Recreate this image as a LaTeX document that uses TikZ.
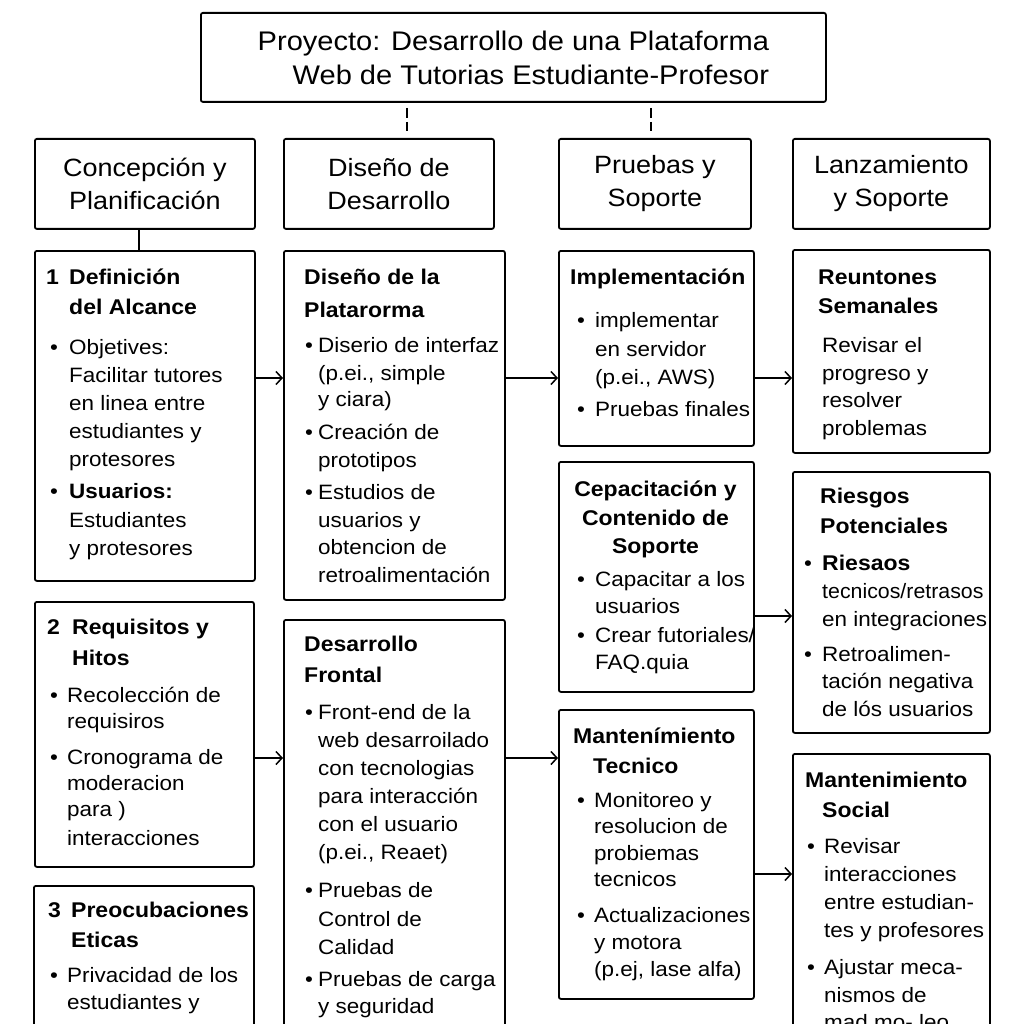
\documentclass[tikz,border=0pt]{standalone}
\usepackage{fontspec}
\setmainfont{Liberation Sans}[FakeStretch=1.08]
\usepackage{graphicx}
\usetikzlibrary{arrows.meta}
\newlength\Wa
\newlength\Ob
\newcommand{\bt}{\bfseries\fontsize{21.3}{26}\selectfont}
\newcommand{\LT}[2]{\kern#1\hbox{\smash{\bt #2}}}
\newcommand{\LM}[2]{\kern#1\hbox to 0pt{\hss\smash{\bt #2}\hss}}
\newcommand{\LB}[2]{\kern#1\hbox{\smash{\makebox[\Wa][l]{\hspace*{\Ob}\textbullet}#2}}}
\newcommand{\LC}[2]{\kern#1\hbox{\smash{\hspace*{\Wa}#2}}}
\newcommand{\TxtBlk}[3]{\setlength\Wa{#1}\setlength\Ob{#2}\vtop{\offinterlineskip #3}}
\begin{document}
\begin{tikzpicture}[x=1pt,y=-1pt,
  box/.style={draw, line width=1.8pt, rounded corners=2pt, anchor=north west, inner sep=0pt},
  hdr/.style={box, align=center, font=\fontsize{25}{33}\selectfont},
  txt/.style={anchor=base west, inner sep=0pt, font=\fontsize{20.8}{26}\selectfont},
  ttl/.style={anchor=base, inner sep=0pt, font=\fontsize{20.8}{26}\selectfont},
  arr/.style={line width=1.5pt, -{Straight Barb[length=6pt,width=13pt]}},
  link/.style={line width=1.5pt},
  dsh/.style={line width=1.5pt, dash pattern=on 10pt off 4pt}]
\useasboundingbox (0,0) rectangle (1024,1024);
\fill[white] (0,0) rectangle (1024,1024);
\clip (0,0) rectangle (1024,1024);

% title and headers
\node[box, align=right, font=\fontsize{26.9}{34}\selectfont, minimum width=625pt, minimum height=89pt] (title) at (200,12)
  {Proyecto: Desarrollo de una Plataforma\\Web de Tutorias Estudiante-Profesor};
\node[hdr, minimum width=220pt, minimum height=90pt] (h1) at (34,138) {Concepción y\\Planificación};
\node[hdr, minimum width=210pt, minimum height=90pt] (h2) at (283,138) {Diseño de\\Desarrollo};
\node[hdr, minimum width=192pt, minimum height=90pt] (h3) at (558,138) {Pruebas y\\Soporte};
\node[hdr, minimum width=197pt, minimum height=90pt] (h4) at (792,138) {Lanzamiento\\y Soporte};

% content boxes
\node[box, minimum width=220pt, minimum height=330pt] (b1) at (34,250) {};
\node[box, minimum width=219pt, minimum height=265pt] (b2) at (34,601) {};
\node[box, minimum width=220pt, minimum height=160pt] (b3) at (33,885) {};
\node[box, minimum width=221pt, minimum height=349pt] (dA) at (283,250) {};
\node[box, minimum width=221pt, minimum height=420pt] (dB) at (283,619) {};
\node[box, minimum width=195pt, minimum height=195pt] (im) at (558,250) {};
\node[box, minimum width=195pt, minimum height=230pt] (cp) at (558,461) {};
\node[box, minimum width=195pt, minimum height=289pt] (mt) at (558,709) {};
\node[box, minimum width=197pt, minimum height=203pt] (ru) at (792,249) {};
\node[box, minimum width=197pt, minimum height=261pt] (ri) at (792,471) {};
\node[box, minimum width=197pt, minimum height=300pt] (ms) at (792,753) {};

% texts
\node[txt] (t1) at (46,284) {\TxtBlk{23pt}{4pt}{%
\LT{0pt}{\makebox[23pt][l]{1}Definición}
\LT{30pt}{\hspace*{23pt}del Alcance}
\LB{40pt}{Objetives:}
\LC{28pt}{Facilitar tutores}
\LC{28pt}{en linea entre}
\LC{28pt}{estudiantes y}
\LC{28pt}{protesores}
\LB{32pt}{\textbf{Usuarios:}}
\LC{29pt}{Estudiantes}
\LC{28pt}{y protesores}}};

\node[txt] (t2) at (47,634) {\TxtBlk{20pt}{3pt}{%
\LT{0pt}{\makebox[25pt][l]{2}Requisitos y}
\LT{31pt}{\hspace*{25pt}Hitos}
\LB{37pt}{Recolección de}
\LC{26pt}{requisiros}
\LB{36pt}{Cronograma de}
\LC{26pt}{moderacion}
\LC{26pt}{para )}
\LC{29pt}{interacciones}}};

\node[txt] (t3) at (48,917) {\TxtBlk{19pt}{2pt}{%
\LT{0pt}{\makebox[23pt][l]{3}Preocubaciones}
\LT{30pt}{\hspace*{23pt}Eticas}
\LB{35pt}{Privacidad de los}
\LC{27pt}{estudiantes y}}};

\node[txt] (tA) at (304,284) {\TxtBlk{14pt}{1pt}{%
\LT{0pt}{Diseño de la}
\LT{33pt}{Platarorma}
\LB{35pt}{Diserio de interfaz}
\LC{28pt}{(p.ei., simple}
\LC{26pt}{y ciara)}
\LB{33pt}{Creación de}
\LC{28pt}{prototipos}
\LB{32pt}{Estudios de}
\LC{28pt}{usuarios y}
\LC{27pt}{obtencion de}
\LC{28pt}{retroalimentación}}};

\node[txt] (tB) at (304,651) {\TxtBlk{14pt}{1pt}{%
\LT{0pt}{Desarrollo}
\LT{31pt}{Frontal}
\LB{37pt}{Front-end de la}
\LC{28pt}{web desarroilado}
\LC{28pt}{con tecnologias}
\LC{28pt}{para interacción}
\LC{28pt}{con el usuario}
\LC{28pt}{(p.ei., Reaet)}
\LB{38pt}{Pruebas de}
\LC{29pt}{Control de}
\LC{28pt}{Calidad}
\LB{32pt}{Pruebas de carga}
\LC{27pt}{y seguridad}}};

\node[txt] (tim) at (570,284) {\TxtBlk{25pt}{7pt}{%
\LT{0pt}{Implementación}
\LB{43pt}{implementar}
\LC{29pt}{en servidor}
\LC{28pt}{(p.ei., AWS)}
\LB{32pt}{Pruebas finales}}};

\node[ttl] (tcph) at (655.5,496) {\TxtBlk{0pt}{0pt}{%
\LM{0pt}{Cepacitación y}
\LM{29pt}{Contenido de}
\LM{28pt}{Soporte}}};
\node[txt] (tcp) at (570,586) {\TxtBlk{25pt}{7pt}{%
\LB{0pt}{Capacitar a los}
\LC{27pt}{usuarios}
\LB{29pt}{Crear futoriales/}
\LC{27pt}{FAQ.quia}}};

\node[txt] (tmt) at (573,743) {\TxtBlk{21pt}{4pt}{%
\LT{0pt}{Mantenímiento}
\LT{30pt}{\hspace*{20pt}Tecnico}
\LB{34pt}{Monitoreo y}
\LC{26pt}{resolucion de}
\LC{27pt}{probiemas}
\LC{26pt}{tecnicos}
\LB{36pt}{Actualizaciones}
\LC{27pt}{y motora}
\LC{27pt}{(p.ej, lase alfa)}}};

\node[txt] (tru) at (818,284) {\TxtBlk{4pt}{0pt}{%
\LT{0pt}{Reuntones}
\LT{29pt}{Semanales}
\LC{39pt}{Revisar el}
\LC{28pt}{progreso y}
\LC{27pt}{resolver}
\LC{28pt}{problemas}}};

\node[txt] (tri) at (804,503) {\TxtBlk{18pt}{0pt}{%
\LT{0pt}{\hspace*{16pt}Riesgos}
\LT{30pt}{\hspace*{16pt}Potenciales}
\LB{37pt}{\bt Riesaos}
\LC{28pt}{\scalebox{0.95}[1]{tecnicos/retrasos}}
\LC{28pt}{en integraciones}
\LB{35pt}{Retroalimen-}
\LC{27pt}{tación negativa}
\LC{28pt}{de lós usuarios}}};

\node[txt] (tms) at (805,787) {\TxtBlk{19pt}{2pt}{%
\LT{0pt}{Mantenimiento}
\LT{30pt}{\hspace*{17pt}Social}
\LB{36pt}{Revisar}
\LC{28pt}{interacciones}
\LC{28pt}{entre estudian-}
\LC{28pt}{tes y profesores}
\LB{37pt}{Ajustar meca-}
\LC{28pt}{nismos de}
\LC{27pt}{mad mo- leo}}};

% connectors
\coordinate (c1) at (139,0);
\coordinate (d1) at (407,131);
\coordinate (d2) at (651,131);
\coordinate (r1) at (0,378);
\coordinate (r2) at (0,758);
\coordinate (r3) at (0,616);
\coordinate (r4) at (0,874);
\draw[link] (h1.south -| c1) -- (b1.north -| c1);
\draw[dsh, shorten <=5pt] (title.south -| d1) -- (d1);
\draw[dsh, shorten <=5pt] (title.south -| d2) -- (d2);
\draw[arr] (b1.east |- r1) -- (dA.west |- r1);
\draw[arr] (b2.east |- r2) -- (dB.west |- r2);
\draw[arr] (dA.east |- r1) -- (im.west |- r1);
\draw[arr] (dB.east |- r2) -- (mt.west |- r2);
\draw[arr] (im.east |- r1) -- (ru.west |- r1);
\draw[arr] (cp.east |- r3) -- (ri.west |- r3);
\draw[arr] (mt.east |- r4) -- (ms.west |- r4);
\end{tikzpicture}
\end{document}
